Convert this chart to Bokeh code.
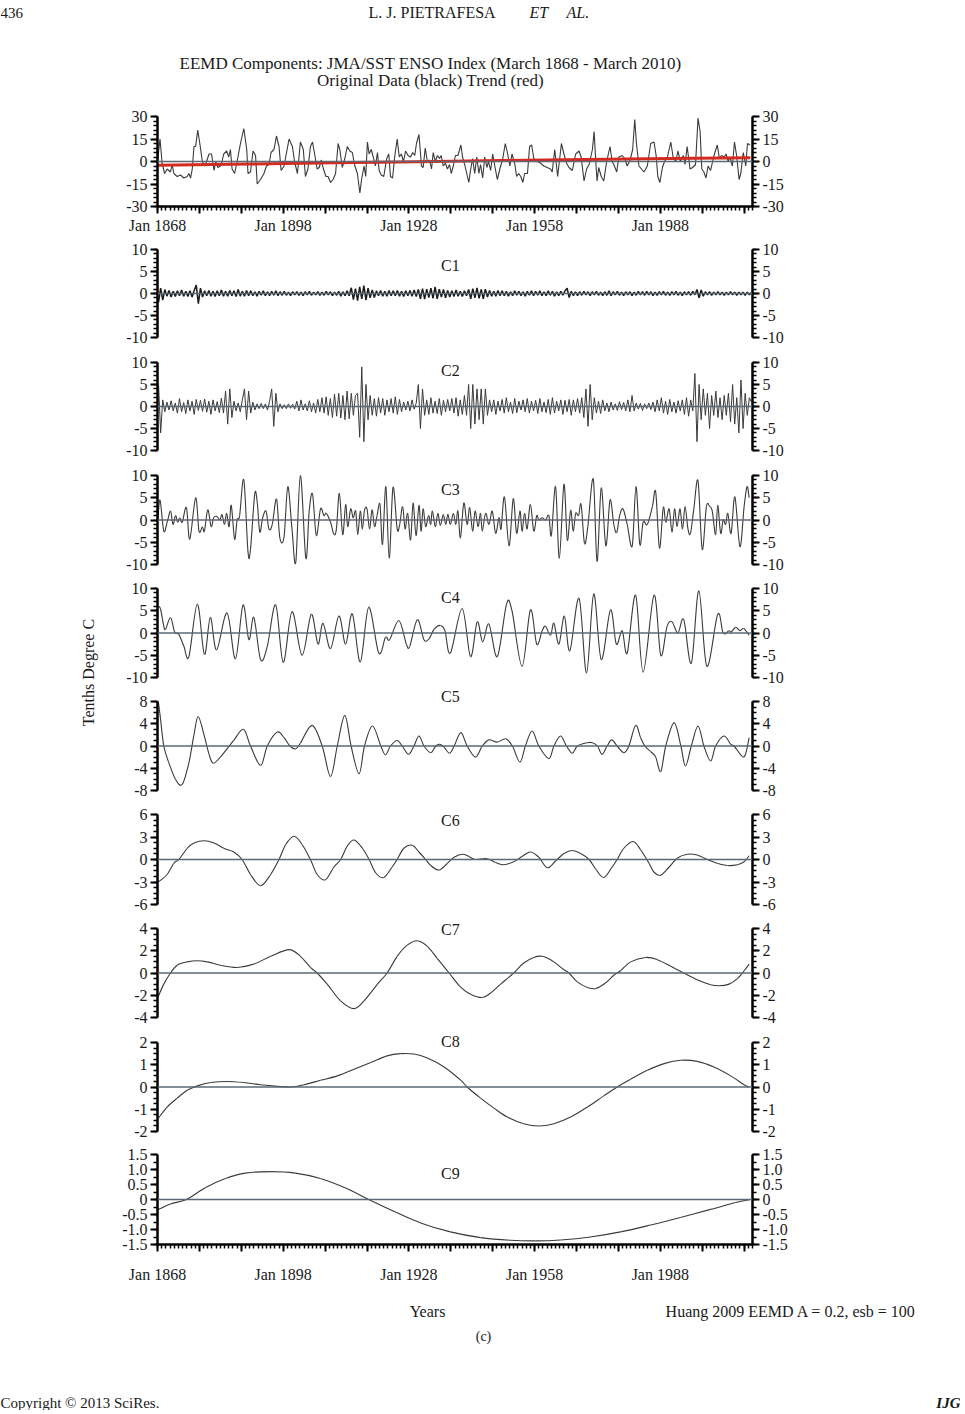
import numpy as np
from bokeh.plotting import figure
from bokeh.layouts import column, row
from bokeh.models import Range1d, LinearAxis, FixedTicker, Span, Label, CustomJSTickFormatter
from bokeh.embed import file_html
from bokeh.resources import INLINE

FONT = "Liberation Serif"

# ---------------- data ----------------
# Original data: (decimal year, tenths deg C)
ORIG = [
(1868.0,0),(1868.6,15),(1869.1,-1),(1869.7,-8),(1870.3,-5),(1871.1,-7),(1871.5,-2),(1871.9,-8),(1872.7,-10),(1873.5,-9),
(1874.3,-11),(1875.1,-10),(1875.5,-8),(1875.9,-11),(1876.3,-5),(1876.7,10),(1877.1,10),(1877.6,21),(1878.1,12),(1878.7,0),
(1879.2,-3),(1879.7,0),(1880.3,5),(1880.9,5),(1881.5,-6),(1881.9,0),(1882.4,-4),(1883.0,-3),(1883.4,0),(1883.8,5),
(1884.5,7),(1885.0,3),(1885.4,8),(1885.8,-5),(1886.4,-8),(1887.0,0),(1887.8,12),(1888.6,22),(1889.3,8),(1889.6,-8),
(1890.2,-7),(1890.8,7),(1891.4,4),(1891.8,-15),(1892.6,-12),(1893.4,-8),(1894.0,-3),(1894.6,-2),(1895.1,6),(1895.8,8),
(1896.4,17),(1897.0,10),(1897.5,-6),(1898.2,-3),(1898.8,6),(1899.4,15),(1900.2,10),(1900.7,0),(1901.4,-8),(1902.1,13),
(1902.8,8),(1903.3,-10),(1903.9,-5),(1904.5,10),(1905.0,13),(1905.5,5),(1906.1,-5),(1906.6,-4),(1907.1,1),(1907.6,-5),
(1908.2,-10),(1908.7,-10),(1909.3,-14),(1909.9,-12),(1910.5,-8),(1911.1,12),(1911.5,8),(1912.1,-4),(1912.7,2),(1913.3,10),
(1913.9,7),(1914.5,6),(1915.0,-2),(1915.7,-8),(1916.3,-21),(1916.7,-12),(1917.3,-3),(1917.7,-10),(1918.1,13),(1918.5,5),
(1919.0,8),(1919.5,3),(1920.0,-3),(1920.5,6),(1920.9,-6),(1921.4,-9),(1922.0,-10),(1922.7,2),(1923.2,5),(1923.6,-10),
(1924.1,-11),(1924.6,3),(1925.2,15),(1925.7,3),(1926.2,5),(1926.7,0),(1927.2,7),(1927.8,4),(1928.4,3),(1928.9,6),
(1929.4,4),(1929.8,12),(1930.4,18),(1931.0,-3),(1931.4,-4),(1931.9,9),(1932.4,0),(1932.9,1),(1933.4,-5),(1933.8,6),
(1934.3,0),(1934.8,4),(1935.3,2),(1935.7,4),(1936.2,-3),(1936.7,-1),(1937.2,-5),(1937.7,-2),(1938.1,-8),(1938.6,-3),
(1939.1,4),(1939.7,4),(1940.4,11),(1940.8,3),(1941.3,-2),(1941.8,-8),(1942.3,-14),(1942.7,-6),(1943.2,2),(1943.7,-8),
(1944.2,3),(1944.7,-8),(1945.1,-2),(1945.6,-11),(1946.1,3),(1946.6,-4),(1947.0,0),(1947.5,-6),(1948.0,5),(1948.5,-3),
(1949.1,-12),(1949.7,-5),(1950.4,2),(1951.0,12),(1951.5,6),(1952.1,-3),(1952.6,5),(1953.3,-2),(1953.7,-10),(1954.2,-8),
(1954.7,-10),(1955.2,-14),(1955.6,-8),(1956.3,-8),(1956.8,10),(1957.3,11),(1957.8,2),(1958.6,0),(1959.4,-1),(1960.2,-3),
(1961.0,-4),(1961.8,-5),(1962.2,-7),(1962.8,8),(1963.5,-10),(1964.4,12),(1965.0,5),(1965.6,-1),(1966.2,-4),(1967.0,-6),
(1967.8,5),(1968.6,7),(1969.1,3),(1969.8,-13),(1970.4,-5),(1971.0,-2),(1971.8,8),(1972.2,20),(1972.6,0),(1972.9,-13),
(1973.3,-4),(1973.9,-10),(1974.5,-13),(1975.2,0),(1976.0,10),(1976.5,0),(1976.9,-2),(1977.6,-7),(1978.1,3),(1978.9,4),
(1979.5,2),(1980.1,-3),(1980.8,1),(1981.4,8),(1981.9,28),(1982.3,12),(1982.9,-3),(1983.5,-5),(1984.1,-7),(1984.9,-3),
(1985.7,12),(1986.5,13),(1987.0,4),(1987.4,-10),(1987.9,-14),(1988.5,-4),(1989.0,0),(1989.7,3),(1990.5,13),(1991.1,2),
(1991.7,0),(1992.2,7),(1992.8,0),(1993.5,4),(1993.9,-2),(1994.4,10),(1995.1,-5),(1995.7,-4),(1996.4,-2),(1997.0,29),
(1997.5,20),(1997.9,-5),(1998.4,-7),(1998.9,-11),(1999.4,-3),(2000.0,-6),(2000.8,4),(2001.6,11),(2002.1,2),(2002.6,4),
(2003.2,3),(2003.7,5),(2004.2,0),(2004.6,3),(2005.2,-3),(2005.7,13),(2006.2,4),(2006.8,-12),(2007.2,-8),(2007.8,6),
(2008.4,-3),(2008.8,12),(2009.4,11)]

TREND = [(1868.0,-2.5),(1890.0,-1.7),(1910.0,-0.9),(1930.0,-0.1),(1950.0,0.6),(1970.0,1.3),(1990.0,2.0),(2009.5,2.5)]

# C1 and C2: half-year samples starting 1868.25
GRID_START = 1868.25
GRID_STEP = 0.5
C1 = [
-2.0,1.2,-1.5,0.9,-0.6,0.7,-0.8,0.5,-0.7,0.6,-0.5,0.8,-0.6,0.5,-0.7,0.6,-0.8,0.7,1.9,-2.3,
1.2,-0.8,0.6,-0.5,0.7,-0.6,0.5,-0.7,0.6,-0.5,0.8,-0.6,0.5,-0.6,0.7,-0.5,0.6,-0.7,0.9,-0.6,
0.5,-0.6,0.7,-0.5,0.6,-0.5,0.4,-0.6,0.5,-0.4,0.6,-0.5,0.4,-0.5,0.5,-0.4,0.6,-0.5,0.4,-0.4,
0.5,-0.4,0.3,-0.5,0.4,-0.3,0.4,-0.4,0.3,-0.5,0.4,-0.3,0.5,-0.4,0.3,-0.3,0.4,-0.4,0.3,-0.4,
0.5,-0.3,0.4,-0.5,0.3,-0.4,0.5,-0.6,0.4,-0.5,0.6,-0.5,1.3,-1.4,1.1,-1.6,1.5,-1.2,1.8,-1.5,
1.2,-1.0,0.8,-0.9,0.6,-0.5,0.7,-0.6,0.5,-0.6,0.7,-0.5,0.6,-0.5,0.7,-0.6,0.5,-0.7,0.6,-0.5,
0.7,-0.6,0.8,-0.7,0.9,-1.2,1.1,-1.3,1.0,-0.9,1.2,-1.1,1.5,-1.2,1.0,-0.8,0.9,-1.0,0.7,-0.8,
0.6,-0.7,0.8,-0.6,0.5,-0.7,0.6,-0.5,0.9,-1.2,1.1,-1.0,1.3,-1.1,0.9,-1.2,1.0,-0.8,0.7,-0.6,
0.5,-0.6,0.7,-0.5,0.6,-0.5,0.5,-0.6,0.4,-0.5,0.6,-0.4,0.5,-0.5,0.4,-0.6,0.5,-0.4,0.6,-0.5,
0.5,-0.4,0.6,-0.5,0.4,-0.5,0.6,-0.4,0.5,-0.6,0.4,-0.5,0.5,-0.4,0.6,1.2,-0.9,0.5,-0.5,0.4,
-0.5,0.4,-0.4,0.5,-0.3,0.4,-0.5,0.4,-0.3,0.5,-0.4,0.3,-0.5,0.4,-0.4,0.6,-0.5,0.4,-0.3,0.5,
-0.4,0.3,-0.5,0.4,-0.3,0.4,-0.5,0.3,-0.4,0.5,-0.3,0.4,-0.4,0.5,-0.3,0.4,-0.5,0.3,-0.4,0.4,
-0.3,0.5,-0.4,0.3,-0.4,0.4,-0.3,0.5,-0.4,0.3,-0.5,0.4,-0.3,0.4,-0.4,0.5,-0.3,0.9,-1.0,0.8,
-0.6,0.4,-0.3,0.4,-0.4,0.3,-0.3,0.4,-0.3,0.3,-0.4,0.3,-0.3,0.4,-0.3,0.3,-0.4,0.3,-0.3,0.3,
-0.4,0.3,-0.3,0.2]

C2 = [
5.0,-6.0,1.5,-1.2,1.0,-0.8,1.3,-1.0,0.8,-1.5,1.8,-1.2,0.9,-1.6,1.5,-1.0,1.2,-1.8,1.6,-0.9,
1.4,-1.1,1.7,-1.3,1.2,-1.8,1.5,-1.0,1.1,-1.4,1.9,-1.5,3.5,-4.0,4.0,-2.5,1.2,-1.0,0.8,-1.2,
1.5,4.0,-3.0,3.5,-1.5,1.0,-0.8,0.6,-0.5,0.7,-0.5,0.6,-0.8,1.2,4.0,-4.5,3.0,-1.2,0.6,-0.5,
0.4,-0.5,0.6,-0.4,0.5,-0.6,1.2,-1.0,1.5,-0.8,0.6,-1.0,1.3,-1.2,0.8,-1.5,1.6,-1.2,2.0,-1.5,
2.2,-2.0,1.8,-2.5,2.8,-2.2,3.0,-2.6,2.5,-3.0,3.5,-2.8,3.0,-2.0,2.5,3.0,-7.0,9.0,-8.0,5.0,
-3.0,2.5,-2.0,1.8,-2.2,2.0,-1.5,1.8,-2.0,1.5,-1.2,1.8,-1.5,2.2,-1.8,1.6,-1.2,1.0,-0.8,1.2,
-1.0,1.5,-0.6,0.8,5.0,-5.0,4.0,-2.0,1.5,-1.8,2.0,-1.5,1.2,-1.6,1.8,-2.0,1.4,-1.2,1.6,-1.0,
1.8,-1.5,2.0,-2.2,1.5,-1.8,2.5,-2.0,5.0,-5.0,5.0,-4.0,4.0,-3.0,4.0,-4.0,4.0,-2.0,1.5,-1.2,
1.5,-1.8,1.2,-1.0,1.6,-1.5,2.0,-1.2,1.0,-1.6,1.8,-1.4,1.2,-0.8,1.5,-1.2,1.8,-1.5,1.2,-1.0,
1.4,-1.6,1.8,-1.2,1.0,-1.4,1.6,-1.8,2.0,-1.5,1.2,-1.0,1.5,-1.8,1.4,-1.2,1.6,-2.0,1.5,-1.2,
1.8,-1.5,2.0,-2.5,4.0,-4.5,5.0,-3.0,2.0,-1.5,1.2,-1.6,1.5,-1.0,0.8,-1.2,1.0,-0.8,0.6,-0.9,
1.1,-0.7,0.9,-1.0,1.5,-1.2,2.5,-1.0,0.8,-0.6,0.7,-0.9,0.6,-0.5,0.8,-0.7,1.0,-1.2,1.5,-1.0,
2.0,-1.5,1.2,-1.8,1.6,-1.2,1.0,-1.5,1.3,-1.0,1.5,-1.8,2.0,-2.2,1.5,-1.0,7.5,-8.0,5.0,-3.0,
4.0,-2.0,3.0,-5.0,2.5,-2.0,3.5,-2.5,2.0,-3.0,2.5,-2.0,3.0,-3.5,5.0,-4.0,2.0,-6.0,6.0,-5.0,
3.0,-2.0,2.0,1.0]

C3 = [
(1868.1,0),(1868.6,4.5),(1869.5,-2.5),(1870.3,-0.5),(1871.1,2),(1871.7,-1),(1872.3,1),(1872.8,-0.5),(1873.3,0.5),(1873.9,-0.5),
(1874.9,2.8),(1875.7,-4.3),(1877.1,5),(1877.9,-2.5),(1878.7,-1.5),(1879.2,-2.5),(1880.0,2.3),(1880.8,-1.5),(1881.4,0.5),(1882.2,0.8),
(1882.9,0),(1883.4,1.2),(1884.0,-1),(1884.5,1.5),(1885.1,-1.5),(1885.6,3.3),(1886.4,-4.3),(1887.0,0),(1887.6,1),(1888.6,9),
(1889.6,-7.2),(1890.2,-6.5),(1891.2,5.8),(1891.8,4),(1892.4,-2.7),(1893.1,0.5),(1893.9,2),(1894.6,-2),(1895.4,-1),(1896.4,4.7),
(1897.2,-4),(1898.2,-3.8),(1899.1,7.5),(1900.1,-2),(1901.0,-9.5),(1902.1,10),(1903.4,-8.6),(1904.2,2),(1905.0,5.8),(1905.9,-3.5),
(1906.9,2.5),(1907.7,1),(1908.3,1.5),(1909.3,-0.5),(1910.1,-3.2),(1910.7,-2),(1911.4,6),(1912.2,-3.3),(1912.9,3.5),(1913.4,-1.5),
(1914.1,2.5),(1914.7,0.5),(1915.3,2),(1915.8,-3.3),(1916.4,2),(1916.9,-2),(1917.4,2.2),(1918.0,2.5),(1918.6,-2),(1919.2,2.3),
(1919.8,-1.5),(1920.4,1),(1921.1,3.5),(1921.7,-5.5),(1922.5,7.5),(1923.3,-8.6),(1924.2,7.3),(1925.2,-2),(1925.8,-1),(1926.5,3),
(1927.1,-2),(1927.7,1.5),(1928.4,-4.5),(1929.0,3.8),(1929.7,-3.5),(1930.4,3.3),(1930.9,-2.5),(1931.4,2.5),(1932.0,-1.5),(1932.7,1),
(1933.2,-1),(1933.6,2),(1934.3,-1.5),(1934.9,1.5),(1935.5,-1.2),(1936.2,1.2),(1936.8,-1),(1937.3,1.3),(1937.9,-1),(1938.6,1.5),
(1939.2,-1),(1939.7,2),(1940.3,-4),(1941.1,3.8),(1941.9,-1),(1942.5,2.8),(1943.2,-2.5),(1943.8,2),(1944.5,-1.5),(1945.1,1.5),
(1945.5,-2.5),(1946.3,1.5),(1947.1,-1),(1947.9,2),(1948.7,-3),(1949.5,0.5),(1950.0,-2),(1950.8,5.2),(1951.9,-5.8),(1952.9,4.8),
(1953.7,-3),(1954.5,2),(1955.0,-2.5),(1955.6,1.5),(1956.2,-2),(1957.0,3.5),(1957.8,-2.5),(1958.5,1),(1959.0,0),(1959.8,0.5),
(1960.6,0),(1961.4,1),(1962.0,-3.5),(1963.0,7.5),(1963.9,-8.6),(1965.0,8),(1965.8,-4.5),(1966.6,2.2),(1967.2,-2.5),(1967.8,1.5),
(1968.5,1),(1969.1,3.5),(1969.9,-5.2),(1970.7,-1.5),(1972.0,9.2),(1972.9,-9.3),(1973.9,7.2),(1975.0,-5.8),(1976.0,4.5),(1976.9,-1),
(1977.6,-2.8),(1978.3,1),(1979.1,2.5),(1980.1,-1),(1981.3,-5.8),(1982.2,7.5),(1983.1,-5.5),(1983.9,-0.5),(1984.9,-1),(1986.1,3),
(1986.9,6.3),(1987.8,-6.3),(1988.7,2.8),(1989.3,-0.5),(1990.1,2.5),(1990.8,-2.8),(1991.4,2.5),(1992.0,-1.5),(1992.7,2.5),(1993.3,-2),
(1993.9,3),(1994.6,-2),(1995.2,-3),(1996.0,2.5),(1997.0,8.8),(1998.0,-6.6),(1999.0,3),(1999.8,3),(2000.4,2),(2001.2,-3.3),
(2001.7,3.3),(2002.4,-3),(2003.0,0),(2003.6,-1),(2004.1,1.5),(2004.9,-3),(2005.8,5.2),(2007.0,-6),(2008.0,3),(2008.7,7.5),
(2009.2,5)]

C4 = [
(1868.1,6),(1868.7,5.5),(1869.4,2),(1869.9,0.8),(1871.1,3.5),(1872.1,0.2),(1873.1,-0.3),(1874.3,-3),(1875.5,-5.3),(1877.5,6.5),
(1879.2,-4.8),(1880.6,3.5),(1882.1,-3.8),(1884.6,4.5),(1886.6,-5.8),(1888.4,6.3),(1889.8,-1.5),(1891.0,3.5),(1892.6,-6),(1894.2,-3),
(1896.2,6.3),(1898.0,-6.6),(1900.1,4.8),(1902.5,-5),(1904.7,4.2),(1906.3,-2.5),(1907.5,2.2),(1909.3,-3.5),(1911.3,3.8),(1912.9,-2.5),
(1914.5,4.3),(1916.4,-6.5),(1918.4,5.8),(1920.8,-4.5),(1922.4,-1),(1923.4,-1.5),(1925.6,2.8),(1927.4,-2.5),(1928.2,-3),(1930.0,3),
(1931.6,-1.5),(1932.8,-1.3),(1934.0,0.8),(1935.5,1.7),(1936.6,0.5),(1937.9,-4.5),(1940.7,5.5),(1942.7,-5.3),(1944.3,2.5),(1945.6,-2),
(1947.1,2),(1949.1,-5.3),(1951.3,6.5),(1952.6,5),(1955.0,-7.5),(1957.0,5.2),(1958.5,-2.5),(1959.8,0.5),(1960.6,1.5),(1961.8,-0.5),
(1962.6,2.2),(1963.8,-2.5),(1965.1,3.8),(1966.4,-4),(1968.6,7.8),(1970.4,-9),(1972.1,8.8),(1973.9,-6),(1976.1,5.2),(1977.5,-2.5),
(1978.9,0.5),(1980.1,-4.5),(1982.1,8.5),(1983.9,-8.8),(1986.5,8.5),(1988.1,-5),(1989.6,1.5),(1990.8,2.5),(1992.2,0),(1993.6,3),
(1995.4,-6.8),(1997.2,9.5),(1999.1,-7.5),(2001.7,4.2),(2003.0,0),(2004.4,0.5),(2004.9,0.2),(2006.0,1.3),(2007.0,0.5),(2007.9,1),
(2009.2,-0.5)]

C5 = [
(1868.2,8),(1868.7,5),(1869.5,0),(1870.7,-3),(1872.3,-6),(1873.9,-6.9),(1875.5,-3),(1876.7,2),(1877.7,5.3),(1879.1,2),
(1880.3,-1.5),(1881.3,-3.1),(1883.0,-2),(1884.6,-0.5),(1886.2,1),(1888.5,3),(1890.2,0),(1892.6,-3.5),(1894.2,0),(1896.6,2.5),
(1898.2,1.5),(1899.6,0),(1901.0,-0.5),(1902.1,0.5),(1904.9,3.7),(1907.3,0),(1909.3,-5.5),(1910.9,0),(1912.7,5.5),(1914.2,0),
(1916.1,-5),(1917.4,0),(1919.3,3.6),(1921.3,0),(1922.4,-1.6),(1923.6,0),(1925.2,1),(1926.4,0),(1927.9,-1.5),(1929.2,0),
(1930.4,1.8),(1931.6,0),(1933.2,-1.2),(1934.4,0),(1935.3,0.3),(1936.4,-0.2),(1937.7,-1.3),(1938.8,0),(1940.4,2.4),(1941.9,0),
(1943.9,-2),(1945.5,0),(1947.1,1.1),(1949.1,0.7),(1951.1,1.3),(1952.7,0),(1954.5,-2.9),(1955.8,0),(1957.4,2.7),(1959.0,0),
(1961.4,-2.3),(1962.6,0),(1964.2,1.8),(1965.6,0),(1967.0,-1.3),(1968.2,0),(1970.6,0.6),(1971.8,0.6),(1973.0,0),(1974.1,-1.5),
(1975.3,0),(1976.4,1.1),(1977.7,0),(1979.3,-1.2),(1980.5,0),(1982.1,3.7),(1983.3,1.5),(1984.3,0),(1985.7,-1),(1986.9,-2),
(1988.1,-4.6),(1989.3,0),(1991.3,4.2),(1992.9,0),(1994.0,-3.6),(1995.4,0),(1997.0,3.6),(1998.4,0),(2000.0,-2.7),(2001.2,0),
(2003.2,1.8),(2004.8,0.3),(2005.6,0),(2007.6,-1.9),(2008.4,-1.3),(2009.2,1.5)]

C6 = [
(1868.2,-3),(1870.3,-2),(1871.9,-0.5),(1873.1,0),(1875.1,1.5),(1876.7,2.2),(1879.1,2.5),(1881.5,2.2),(1883.8,1.5),(1886.2,1),
(1888.2,0),(1890.2,-2),(1892.6,-3.5),(1895.0,-2),(1897.0,0),(1898.6,2),(1900.6,3.1),(1902.5,2),(1904.5,0),(1906.1,-2),
(1908.1,-2.7),(1910.1,-1),(1911.7,0),(1913.3,1.8),(1914.9,2.6),(1916.9,1.5),(1918.5,0),(1920.1,-1.8),(1922.0,-2.4),(1924.0,-1),
(1925.2,0),(1926.8,1.5),(1928.8,1.9),(1930.4,1),(1932.0,0),(1933.2,-0.8),(1935.2,-1.4),(1937.2,-0.5),(1938.8,0.3),(1940.8,0.7),
(1942.3,0.4),(1943.9,0),(1946.7,0.1),(1948.7,-0.4),(1950.7,-0.7),(1953.0,-0.3),(1955.0,0.4),(1957.0,1),(1959.0,0.3),(1961.0,-1.1),
(1963.0,-0.2),(1965.0,0.8),(1967.0,1.2),(1969.0,0.8),(1971.0,0),(1972.6,-1.3),(1974.5,-2.4),(1976.5,-1),(1977.7,0),(1979.3,1.5),
(1981.5,2.4),(1983.3,1.3),(1985.3,-0.5),(1986.5,-1.7),(1988.1,-2.1),(1990.1,-1),(1992.1,0.2),(1994.4,0.7),(1996.8,0.6),(1999.2,0),
(2001.6,-0.5),(2004.0,-0.8),(2006.4,-0.7),(2008.0,-0.3),(2009.2,0.5)]

C7 = [
(1868.2,-2.1),(1869.5,-1),(1871.1,0),(1872.7,0.7),(1875.1,1),(1877.5,1.1),(1879.9,1),(1883.0,0.7),(1887.0,0.5),(1891.0,0.8),
(1895.0,1.5),(1899.4,2.1),(1902.1,1.5),(1904.5,0.5),(1906.1,0),(1908.5,-1),(1911.7,-2.5),(1914.9,-3.2),(1917.3,-2.5),(1920.5,-1),
(1922.8,0),(1925.2,1.5),(1927.6,2.5),(1930.0,2.9),(1932.4,2.4),(1934.8,1.3),(1937.6,0),(1940.4,-1.3),(1942.7,-1.9),(1945.5,-2.2),
(1947.5,-1.8),(1949.9,-1),(1953.0,0),(1955.4,0.9),(1957.8,1.4),(1959.8,1.5),(1962.2,1.1),(1964.6,0.4),(1966.2,0),(1968.2,-0.8),
(1970.6,-1.3),(1972.6,-1.4),(1974.9,-0.9),(1976.9,-0.2),(1978.5,0.2),(1980.9,1),(1984.5,1.4),(1987.3,1.2),(1990.5,0.6),(1993.6,0),
(1996.8,-0.6),(2000.0,-1.05),(2002.0,-1.15),(2004.4,-1),(2006.4,-0.5),(2008.0,0.2),(2009.2,0.8)]

C8 = [
(1868.2,-1.4),(1870.3,-0.9),(1872.7,-0.5),(1875.1,-0.15),(1877.5,0.05),(1880.7,0.2),(1884.6,0.25),(1888.6,0.2),(1892.6,0.1),(1896.6,0.03),
(1899.8,0),(1902.9,0.1),(1906.9,0.3),(1910.9,0.5),(1914.9,0.8),(1918.9,1.1),(1922.8,1.4),(1926.0,1.5),(1929.2,1.48),(1932.4,1.3),
(1936.4,0.9),(1940.4,0.3),(1941.9,0),(1945.1,-0.5),(1948.3,-0.95),(1951.5,-1.35),(1955.4,-1.65),(1959.0,-1.75),(1962.6,-1.65),(1966.6,-1.35),
(1970.6,-0.9),(1974.5,-0.4),(1977.7,0),(1980.9,0.35),(1984.9,0.75),(1988.9,1.05),(1992.9,1.2),(1996.8,1.15),(2000.8,0.9),(2004.8,0.5),
(2008.0,0.1),(2009.2,0)]

C9 = [
(1868.0,-0.35),(1871.1,-0.15),(1874.9,0),(1879.5,0.4),(1884.2,0.7),(1889.0,0.88),(1895.0,0.93),(1900.9,0.88),(1906.9,0.7),(1912.9,0.38),
(1918.4,0),(1924.8,-0.42),(1930.8,-0.78),(1937.9,-1.08),(1945.1,-1.27),(1952.2,-1.36),(1958.2,-1.38),(1964.2,-1.35),(1971.3,-1.25),(1978.5,-1.08),
(1985.7,-0.85),(1992.8,-0.6),(2000.0,-0.33),(2006.0,-0.1),(2009.5,0)]

# ---------------- helpers ----------------
LINE = "#3a3a3a"
ZERO = "#5d6874"
X0, X1 = 1868.0, 2010.0
PW = 852           # panel figure width (page x 108 .. 960)
LB, RB = 49, 208   # left/right borders -> frame 595 px (page x 157 .. 752)


def style_axis(ax):
    ax.axis_line_width = 2.5
    ax.axis_line_color = "black"
    ax.major_tick_line_width = 2
    ax.minor_tick_line_width = 1.5
    ax.major_tick_in = 0
    ax.minor_tick_in = 0
    ax.major_tick_out = 7
    ax.minor_tick_out = 4
    ax.major_label_text_font = FONT
    ax.major_label_text_font_size = "16px"
    ax.major_label_text_color = "#1a1a1a"
    ax.major_label_standoff = 3


def xaxis(p, standoff):
    ax = LinearAxis(
        ticker=FixedTicker(ticks=list(range(1868, 2011, 10)), minor_ticks=list(range(1868, 2011))),
        formatter=CustomJSTickFormatter(code="return ((tick - 1868) % 30 == 0 && tick <= 1988) ? 'Jan ' + tick : '';"),
    )
    style_axis(ax)
    ax.major_label_standoff = standoff
    p.add_layout(ax, "below")


def panel(h, top, bottom, lim, step, nminor, dec=False):
    frame_h = h - top - bottom
    upp = 2.0 * lim / frame_h
    p = figure(width=PW, height=h, x_range=Range1d(X0, X1),
               y_range=Range1d(-lim, lim + top * upp),
               toolbar_location=None, output_backend="svg",
               x_axis_type=None, y_axis_type=None)
    p.outline_line_color = None
    p.min_border_left = LB
    p.min_border_right = RB
    p.min_border_top = 0
    p.min_border_bottom = bottom
    majors = [float(v) for v in np.round(np.arange(-lim, lim + step / 2, step), 4)]
    minors = [float(v) for v in np.round(np.arange(-lim, lim + step / (2 * nminor), step / nminor), 4)]
    if dec:
        code = "return tick == 0 ? '0' : tick.toFixed(1);"
    else:
        code = "return String(Math.round(tick));"
    for side in ("left", "right"):
        ax = LinearAxis(ticker=FixedTicker(ticks=majors, minor_ticks=minors),
                        formatter=CustomJSTickFormatter(code=code), bounds=(-lim, lim))
        style_axis(ax)
        p.add_layout(ax, side)
    p.add_layout(Span(location=0, dimension="width", line_color=ZERO, line_width=1.3))
    return p


def tag(p, text, y):
    p.add_layout(Label(x=1937.9, y=y, text=text, text_font=FONT, text_font_size="16px",
                       text_align="center", text_baseline="middle", text_color="#1a1a1a"))


def pairs(data):
    return [d[0] for d in data], [d[1] for d in data]


def smooth(p, data, color=LINE, width=1.1):
    # draw a smooth curve through the read points (Catmull-Rom as cubic Bezier segments)
    xs, ys = (np.array(v, dtype=float) for v in pairs(data))
    n = len(xs)
    i = np.arange(n - 1)
    im = np.maximum(i - 1, 0)
    ip = np.minimum(i + 2, n - 1)
    p.bezier(x0=xs[i], y0=ys[i], x1=xs[i + 1], y1=ys[i + 1],
             cx0=xs[i] + (xs[i + 1] - xs[im]) / 6.0, cy0=ys[i] + (ys[i + 1] - ys[im]) / 6.0,
             cx1=xs[i + 1] - (xs[ip] - xs[i]) / 6.0, cy1=ys[i + 1] - (ys[ip] - ys[i]) / 6.0,
             line_color=color, line_width=width)


grid_x1 = list(GRID_START + GRID_STEP * np.arange(len(C1)))
grid_x2 = list(GRID_START + GRID_STEP * np.arange(len(C2)))

# ---------------- panels ----------------
p0 = panel(136, 16, 30, 30, 15, 5)
ox, oy = pairs(ORIG)
p0.line(ox, oy, line_color=LINE, line_width=1.1)
tx, ty = pairs(TREND)
p0.line(tx, ty, line_color="#d42a20", line_width=3)
xaxis(p0, 3)

p1 = panel(113, 13, 12, 10, 5, 5)
p1.line(grid_x1, C1, line_color="#1a1a1a", line_width=1.5)
tag(p1, "C1", 6.4)

p2 = panel(113, 13, 12, 10, 5, 5)
p2.line(grid_x2, C2, line_color=LINE, line_width=1.0)
tag(p2, "C2", 8.2)

p3 = panel(114, 13, 12, 10, 5, 5)
smooth(p3, C3)
tag(p3, "C3", 6.9)

p4 = panel(110, 12, 9, 10, 5, 5)
smooth(p4, C4)
tag(p4, "C4", 8.0)

p5 = panel(116, 15, 12, 8, 4, 4)
smooth(p5, C5)
tag(p5, "C5", 8.95)

p6 = panel(114, 12, 12, 6, 3, 4)
smooth(p6, C6)
tag(p6, "C6", 5.2)

p7 = panel(113, 12, 12, 4, 2, 4)
smooth(p7, C7)
tag(p7, "C7", 3.9)

p8 = panel(113, 13, 11, 2, 1, 4)
smooth(p8, C8)
tag(p8, "C8", 2.05)

p9 = panel(148, 12, 46, 1.5, 0.5, 2, dec=True)
smooth(p9, C9)
tag(p9, "C9", 0.87)
xaxis(p9, 14)


# ---------------- text-only figures (page pixel coordinates) ----------------
def blank(w, h):
    f = figure(width=w, height=h, x_range=Range1d(0, w), y_range=Range1d(h, 0),
               toolbar_location=None, output_backend="svg", x_axis_type=None, y_axis_type=None)
    f.outline_line_color = None
    f.min_border_left = 0
    f.min_border_right = 0
    f.min_border_top = 0
    f.min_border_bottom = 0
    return f


def txt(f, x, y, s, size="15px", align="left", style="normal", angle=0):
    f.add_layout(Label(x=x, y=y, text=s, text_font=FONT, text_font_size=size, text_align=align,
                       text_baseline="middle", text_font_style=style, angle=angle, text_color="#1a1a1a"))


header = blank(960, 100)
txt(header, 0, 12, "436", "15px")
txt(header, 368, 12, "L. J. PIETRAFESA", "16px")
txt(header, 529, 12, "ET", "16px", style="italic")
txt(header, 566, 12, "AL.", "16px", style="italic")
txt(header, 430, 63, "EEMD Components: JMA/SST ENSO Index (March 1868 - March 2010)", "17px", align="center")
txt(header, 430, 80, "Original Data (black) Trend (red)", "17px", align="center")

side = blank(108, 1190)
txt(side, 88, 572, "Tenths Degree C", "16px", align="center", angle=np.pi / 2)

footer = blank(960, 120)
txt(footer, 427, 21, "Years", "16px", align="center")
txt(footer, 916, 21, "Huang 2009 EEMD A = 0.2, esb = 100", "16px", align="right")
txt(footer, 483, 46, "(c)", "14px", align="center")
txt(footer, 0, 112, "Copyright \u00a9 2013 SciRes.", "15px")
txt(footer, 960, 112, "IJG", "15px", align="right", style="bold italic")

panels = column(p0, p1, p2, p3, p4, p5, p6, p7, p8, p9, spacing=0)
layout = column(header, row(side, panels, spacing=0), footer, spacing=0)

open("out.html", "w").write(file_html(layout, INLINE))
